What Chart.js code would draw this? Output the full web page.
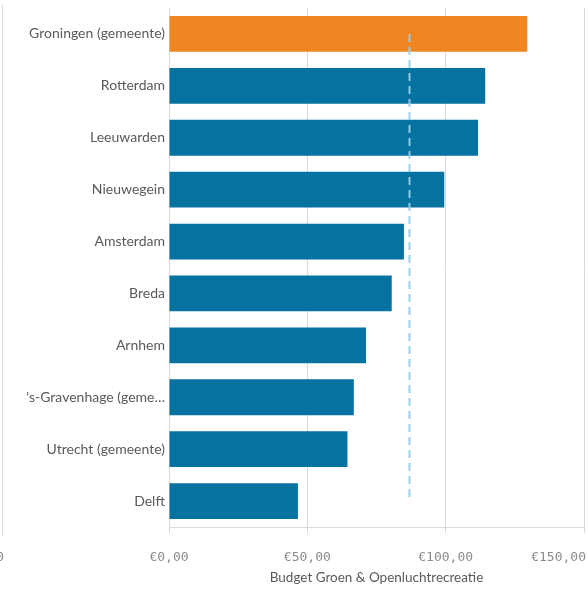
<!DOCTYPE html>
<html>
<head>
<meta charset="utf-8">
<script src="https://cdn.jsdelivr.net/npm/chart.js@4"></script>
<style>
  html, body { margin: 0; padding: 0; background: #fff; overflow: hidden; }
  #wrap { position: relative; width: 588px; height: 592px; }
</style>
</head>
<body>
<div id="wrap"><canvas id="myChart"></canvas></div>
<script>
// gemeenten, sorted by budget
var gemeenten = [
    'Groningen (gemeente)', 'Rotterdam', 'Leeuwarden', 'Nieuwegein', 'Amsterdam',
    'Breda', 'Arnhem', "'s-Gravenhage (gemeente)", 'Utrecht (gemeente)', 'Delft'
];
var budget = [129.5, 114.3, 111.7, 99.5, 84.9, 80.5, 71.2, 66.8, 64.5, 46.6];
var gemiddelde = 86.8;
var xTicks = [0, 50, 100, 150];
var highlight = 'Groningen (gemeente)';

var barColors = gemeenten.map(function (g) {
    return g === highlight ? '#ef8621' : '#05729f';
});

function euro(v) {
    return '€' + v.toFixed(2).replace('.', ',');
}

// dashed reference line, x tick labels (kept inside the canvas) and panel border
var extras = {
    id: 'extras',
    afterDatasetsDraw: function (chart) {
        var ctx = chart.ctx;
        var x = chart.scales.x, y = chart.scales.y;
        var px = Math.round(x.getPixelForValue(gemiddelde)) + 0.5;
        ctx.save();
        ctx.strokeStyle = 'rgba(150,205,238,0.95)';
        ctx.lineWidth = 2;
        ctx.setLineDash([8, 5]);
        ctx.beginPath();
        ctx.moveTo(px, y.getPixelForValue(0));
        ctx.lineTo(px, y.getPixelForValue(gemeenten.length - 1));
        ctx.stroke();
        ctx.restore();
    },
    afterDraw: function (chart) {
        var ctx = chart.ctx;
        var x = chart.scales.x;
        ctx.save();
        ctx.strokeStyle = '#dcdcdc';
        ctx.lineWidth = 1;
        ctx.beginPath();
        ctx.moveTo(2.5, 5);
        ctx.lineTo(2.5, 536);
        ctx.stroke();

        ctx.fillStyle = '#8c8c8c';
        ctx.font = '13px "DejaVu Sans Mono"';
        ctx.textBaseline = 'middle';
        ctx.textAlign = 'left';
        xTicks.forEach(function (v) {
            var s = euro(v);
            var w = ctx.measureText(s).width;
            var left = Math.min(x.getPixelForValue(v) - w / 2, chart.width - 2 - w);
            ctx.fillText(s, left, 558);
        });
        ctx.textAlign = 'right';
        ctx.fillText('0', 4, 558);
        ctx.restore();
    }
};

var ctx = document.getElementById('myChart').getContext('2d');
var myChart = new Chart(ctx, {
    type: 'bar',
    data: {
        labels: gemeenten,
        datasets: [{
            label: 'Budget Groen & Openluchtrecreatie',
            data: budget,
            backgroundColor: barColors,
            borderWidth: 0,
            categoryPercentage: 1,
            barPercentage: 0.69
        }]
    },
    options: {
        indexAxis: 'y',
        responsive: true,
        maintainAspectRatio: false,
        animation: false,
        layout: { padding: { top: 8, right: 0, left: 0, bottom: 0 } },
        plugins: {
            legend: { display: false },
            tooltip: { enabled: false }
        },
        scales: {
            x: {
                min: 0,
                max: 150,
                afterBuildTicks: function (scale) {
                    scale.ticks = xTicks.map(function (v) { return { value: v }; });
                },
                afterFit: function (scale) {
                    scale.height = 65;
                    scale.paddingLeft = 0;
                    scale.paddingRight = 4;
                },
                grid: {
                    color: '#d9d9d9',
                    tickColor: '#d9d9d9',
                    tickLength: 6
                },
                border: { color: '#d9d9d9' },
                ticks: { display: false },
                title: {
                    display: true,
                    text: 'Budget Groen & Openluchtrecreatie',
                    color: '#595959',
                    font: { family: 'Lato', size: 13.5 },
                    padding: { top: 0, bottom: 6 }
                }
            },
            y: {
                afterFit: function (scale) {
                    scale.width = 169;
                    scale.paddingTop = 0;
                    scale.paddingBottom = 0;
                },
                grid: { display: false, drawTicks: false },
                border: { color: '#d9d9d9' },
                ticks: {
                    color: '#595959',
                    font: { family: 'Lato', size: 14 },
                    padding: 4,
                    autoSkip: false,
                    callback: function (v, i) {
                        var s = gemeenten[i];
                        return s.length > 20 ? s.slice(0, 19) + '…' : s;
                    }
                }
            }
        }
    },
    plugins: [extras]
});
</script>
</body>
</html>
